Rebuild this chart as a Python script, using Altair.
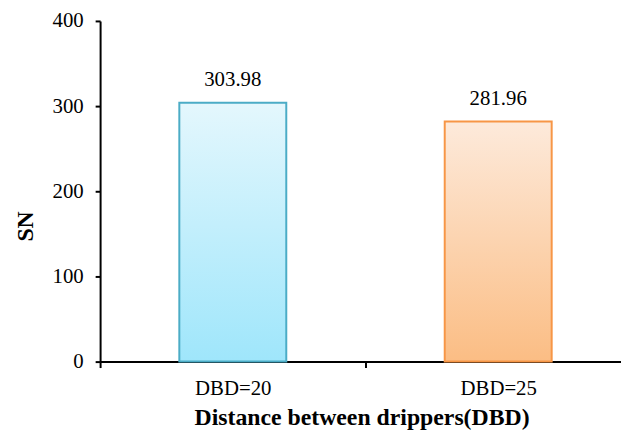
import altair as alt
import pandas as pd

categories = ["DBD=20", "DBD=25"]
values = [303.98, 281.96]
value_labels = ["303.98", "281.96"]
y_ticks = [0, 100, 200, 300, 400]

df = pd.DataFrame({"cat": categories, "val": values, "lab": value_labels})

FONT = "Liberation Serif"

x_enc = alt.X(
    "cat:N",
    sort=categories,
    scale=alt.Scale(range=[0, 536], paddingInner=0, paddingOuter=0),
    axis=alt.Axis(
        title="Distance between drippers(DBD)",
        labelAngle=0,
        tickBand="extent",
        tickSize=6,
        tickWidth=2,
        tickColor="black",
        domainColor="black",
        domainWidth=2,
        labelFont=FONT,
        labelFontSize=21,
        labelColor="black",
        labelBaseline="alphabetic",
        labelPadding=27,
        titleFont=FONT,
        titleFontSize=24,
        titleFontWeight="bold",
        titleColor="black",
        titleX=264,
        titleY=64,
        titleBaseline="alphabetic",
    ),
)

y_enc = alt.Y(
    "val:Q",
    scale=alt.Scale(domain=[0, 400], nice=False),
    axis=alt.Axis(
        title="SN",
        values=y_ticks,
        grid=False,
        tickSize=5,
        tickWidth=2,
        tickColor="black",
        domainColor="black",
        domainWidth=2,
        labelFont=FONT,
        labelFontSize=21,
        labelColor="black",
        labelPadding=12,
        titleFont=FONT,
        titleFontSize=24,
        titleFontWeight="bold",
        titleColor="black",
        titleAngle=270,
        titleX=-75,
        titleY=207,
        titleAlign="center",
        titleBaseline="middle",
    ),
)

blue_grad = alt.Gradient(
    gradient="linear",
    stops=[alt.GradientStop(color="#E4F7FD", offset=0), alt.GradientStop(color="#9FE6FB", offset=1)],
    x1=0, x2=0, y1=0, y2=1,
)
orange_grad = alt.Gradient(
    gradient="linear",
    stops=[alt.GradientStop(color="#FDEADB", offset=0), alt.GradientStop(color="#FBBD84", offset=1)],
    x1=0, x2=0, y1=0, y2=1,
)

base = alt.Chart(df)

bar_blue = base.transform_filter(alt.datum.cat == categories[0]).mark_bar(
    width=alt.RelativeBandSize(0.403), fill=blue_grad, stroke="#4BACC6", strokeWidth=2
).encode(x=x_enc, y=y_enc)

bar_orange = base.transform_filter(alt.datum.cat == categories[1]).mark_bar(
    width=alt.RelativeBandSize(0.403), fill=orange_grad, stroke="#F79646", strokeWidth=2
).encode(x=x_enc, y=y_enc)

text = base.mark_text(
    font=FONT, fontSize=21, color="black", baseline="alphabetic", dy=-17
).encode(x=x_enc, y=y_enc, text="lab:N")

chart = alt.layer(bar_blue, bar_orange, text).properties(
    width=526,
    height=344,
    autosize=alt.AutoSizeParams(type="none"),
    padding={"left": 93, "top": 11, "right": 0, "bottom": 68},
).configure_view(stroke=None)

chart.save("out.html", embed_options={"renderer": "svg", "actions": False})
